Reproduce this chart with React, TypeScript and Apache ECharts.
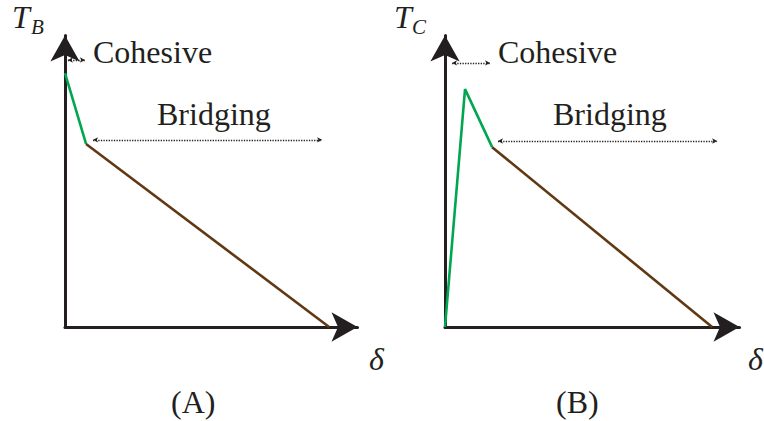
import React, { useEffect, useRef } from "react";
import * as echarts from "echarts";

// Traction–separation laws, panel A: cohesive drop followed by a linear bridging tail
const cohesiveA: number[][] = [[0, 87.1], [7.2, 62.8]];
const bridgingA: number[][] = [[7.2, 62.8], [90.3, 0]];
// Panel B: cohesive rise to a peak, softening, then the bridging tail
const cohesiveB: number[][] = [[0, 0], [6.8, 81.6], [16.0, 61.7]];
const bridgingB: number[][] = [[16.0, 61.7], [90.7, 0]];

// Extent markers: [x start, x end, y]
const cohesiveSpanA = [1.0, 6.8, 91.6];
const bridgingSpanA = [9.6, 87.9, 64.2];
const cohesiveSpanB = [2.4, 15.3, 90.6];
const bridgingSpanB = [18.0, 92.4, 63.8];

const panelLabels = ["(A)", "(B)"];
const axisSubscripts = ["B", "C"];
const spanLabels = ["Cohesive", "Bridging"];

const INK = "#231f20";
const GREEN = "#00a650";
const BROWN = "#603913";
const SERIF = "Liberation Serif";

function axis(gridIndex: number) {
  return {
    type: "value" as const,
    gridIndex,
    min: 0,
    max: 100,
    axisLine: {
      show: true,
      onZero: false,
      symbol: ["none", "arrow"],
      symbolSize: [22, 26],
      lineStyle: { color: INK, width: 3 },
    },
    axisTick: { show: false },
    axisLabel: { show: false },
    splitLine: { show: false },
  };
}

function spanLine(span: number[]) {
  return [{ coord: [span[0], span[2]] }, { coord: [span[1], span[2]] }];
}

function curve(gridIndex: number, data: number[][], color: string, spans: number[][]) {
  return {
    type: "line" as const,
    xAxisIndex: gridIndex,
    yAxisIndex: gridIndex,
    data,
    showSymbol: false,
    symbol: "none",
    silent: true,
    lineStyle: { color, width: 2.6 },
    z: 3,
    markLine: spans.length
      ? {
          silent: true,
          symbol: ["arrow", "arrow"],
          symbolSize: [4, 5],
          label: { show: false },
          emphasis: { disabled: true },
          lineStyle: { color: INK, width: 1.3, type: [1.3, 1.3], opacity: 1 },
          data: spans.map(spanLine),
        }
      : undefined,
  };
}

// Free-standing text; x, y give the top-left corner of the text box
function label(x: number, y: number, str: string, size: number, italic = false) {
  const style: Record<string, unknown> = {
    text: str,
    fontSize: size,
    fontFamily: SERIF,
    fill: INK,
  };
  if (italic) style.fontStyle = "italic";
  return { type: "text", x, y, style };
}

export default function App() {
  const ref = useRef<HTMLDivElement>(null);

  useEffect(() => {
    if (!ref.current) return;
    const chart = echarts.init(ref.current, undefined, { renderer: "svg" });
    chart.setOption({
      animation: false,
      backgroundColor: "#ffffff",
      textStyle: { fontFamily: SERIF },
      grid: [
        { left: 65, top: 35.5, width: 292.5, height: 291.5 },
        { left: 445, top: 35.5, width: 294.5, height: 291.5 },
      ],
      xAxis: [axis(0), axis(1)],
      yAxis: [axis(0), axis(1)],
      series: [
        curve(0, cohesiveA, GREEN, []),
        curve(0, bridgingA, BROWN, [cohesiveSpanA, bridgingSpanA]),
        curve(1, cohesiveB, GREEN, []),
        curve(1, bridgingB, BROWN, [cohesiveSpanB, bridgingSpanB]),
      ],
      graphic: [
        // axis names
        label(12, 1, "T", 32, true),
        label(31, 16.5, axisSubscripts[0], 21, true),
        label(394, 1, "T", 32, true),
        label(412, 16.5, axisSubscripts[1], 21, true),
        label(369, 343, "δ", 32, true),
        label(748, 343, "δ", 32, true),
        // span labels
        label(93, 36, spanLabels[0], 32),
        label(157, 98, spanLabels[1], 32),
        label(498, 36, spanLabels[0], 32),
        label(553, 98, spanLabels[1], 32),
        // panel captions
        label(171, 386, panelLabels[0], 32),
        label(556, 386, panelLabels[1], 32),
      ],
    });
    return () => chart.dispose();
  }, []);

  return (
    <div style={{ fontFamily: SERIF }}>
      <div
        ref={ref}
        style={{
          position: "fixed",
          left: 0,
          top: 0,
          width: 764,
          height: 421,
          fontFamily: SERIF,
        }}
      />
      <span
        aria-hidden="true"
        style={{
          position: "fixed",
          left: -1000,
          top: -1000,
          fontFamily: SERIF,
          fontSize: 32,
        }}
      >
        <span>Cohesive</span>
        <span style={{ fontStyle: "italic" }}>Tδ</span>
      </span>
    </div>
  );
}
